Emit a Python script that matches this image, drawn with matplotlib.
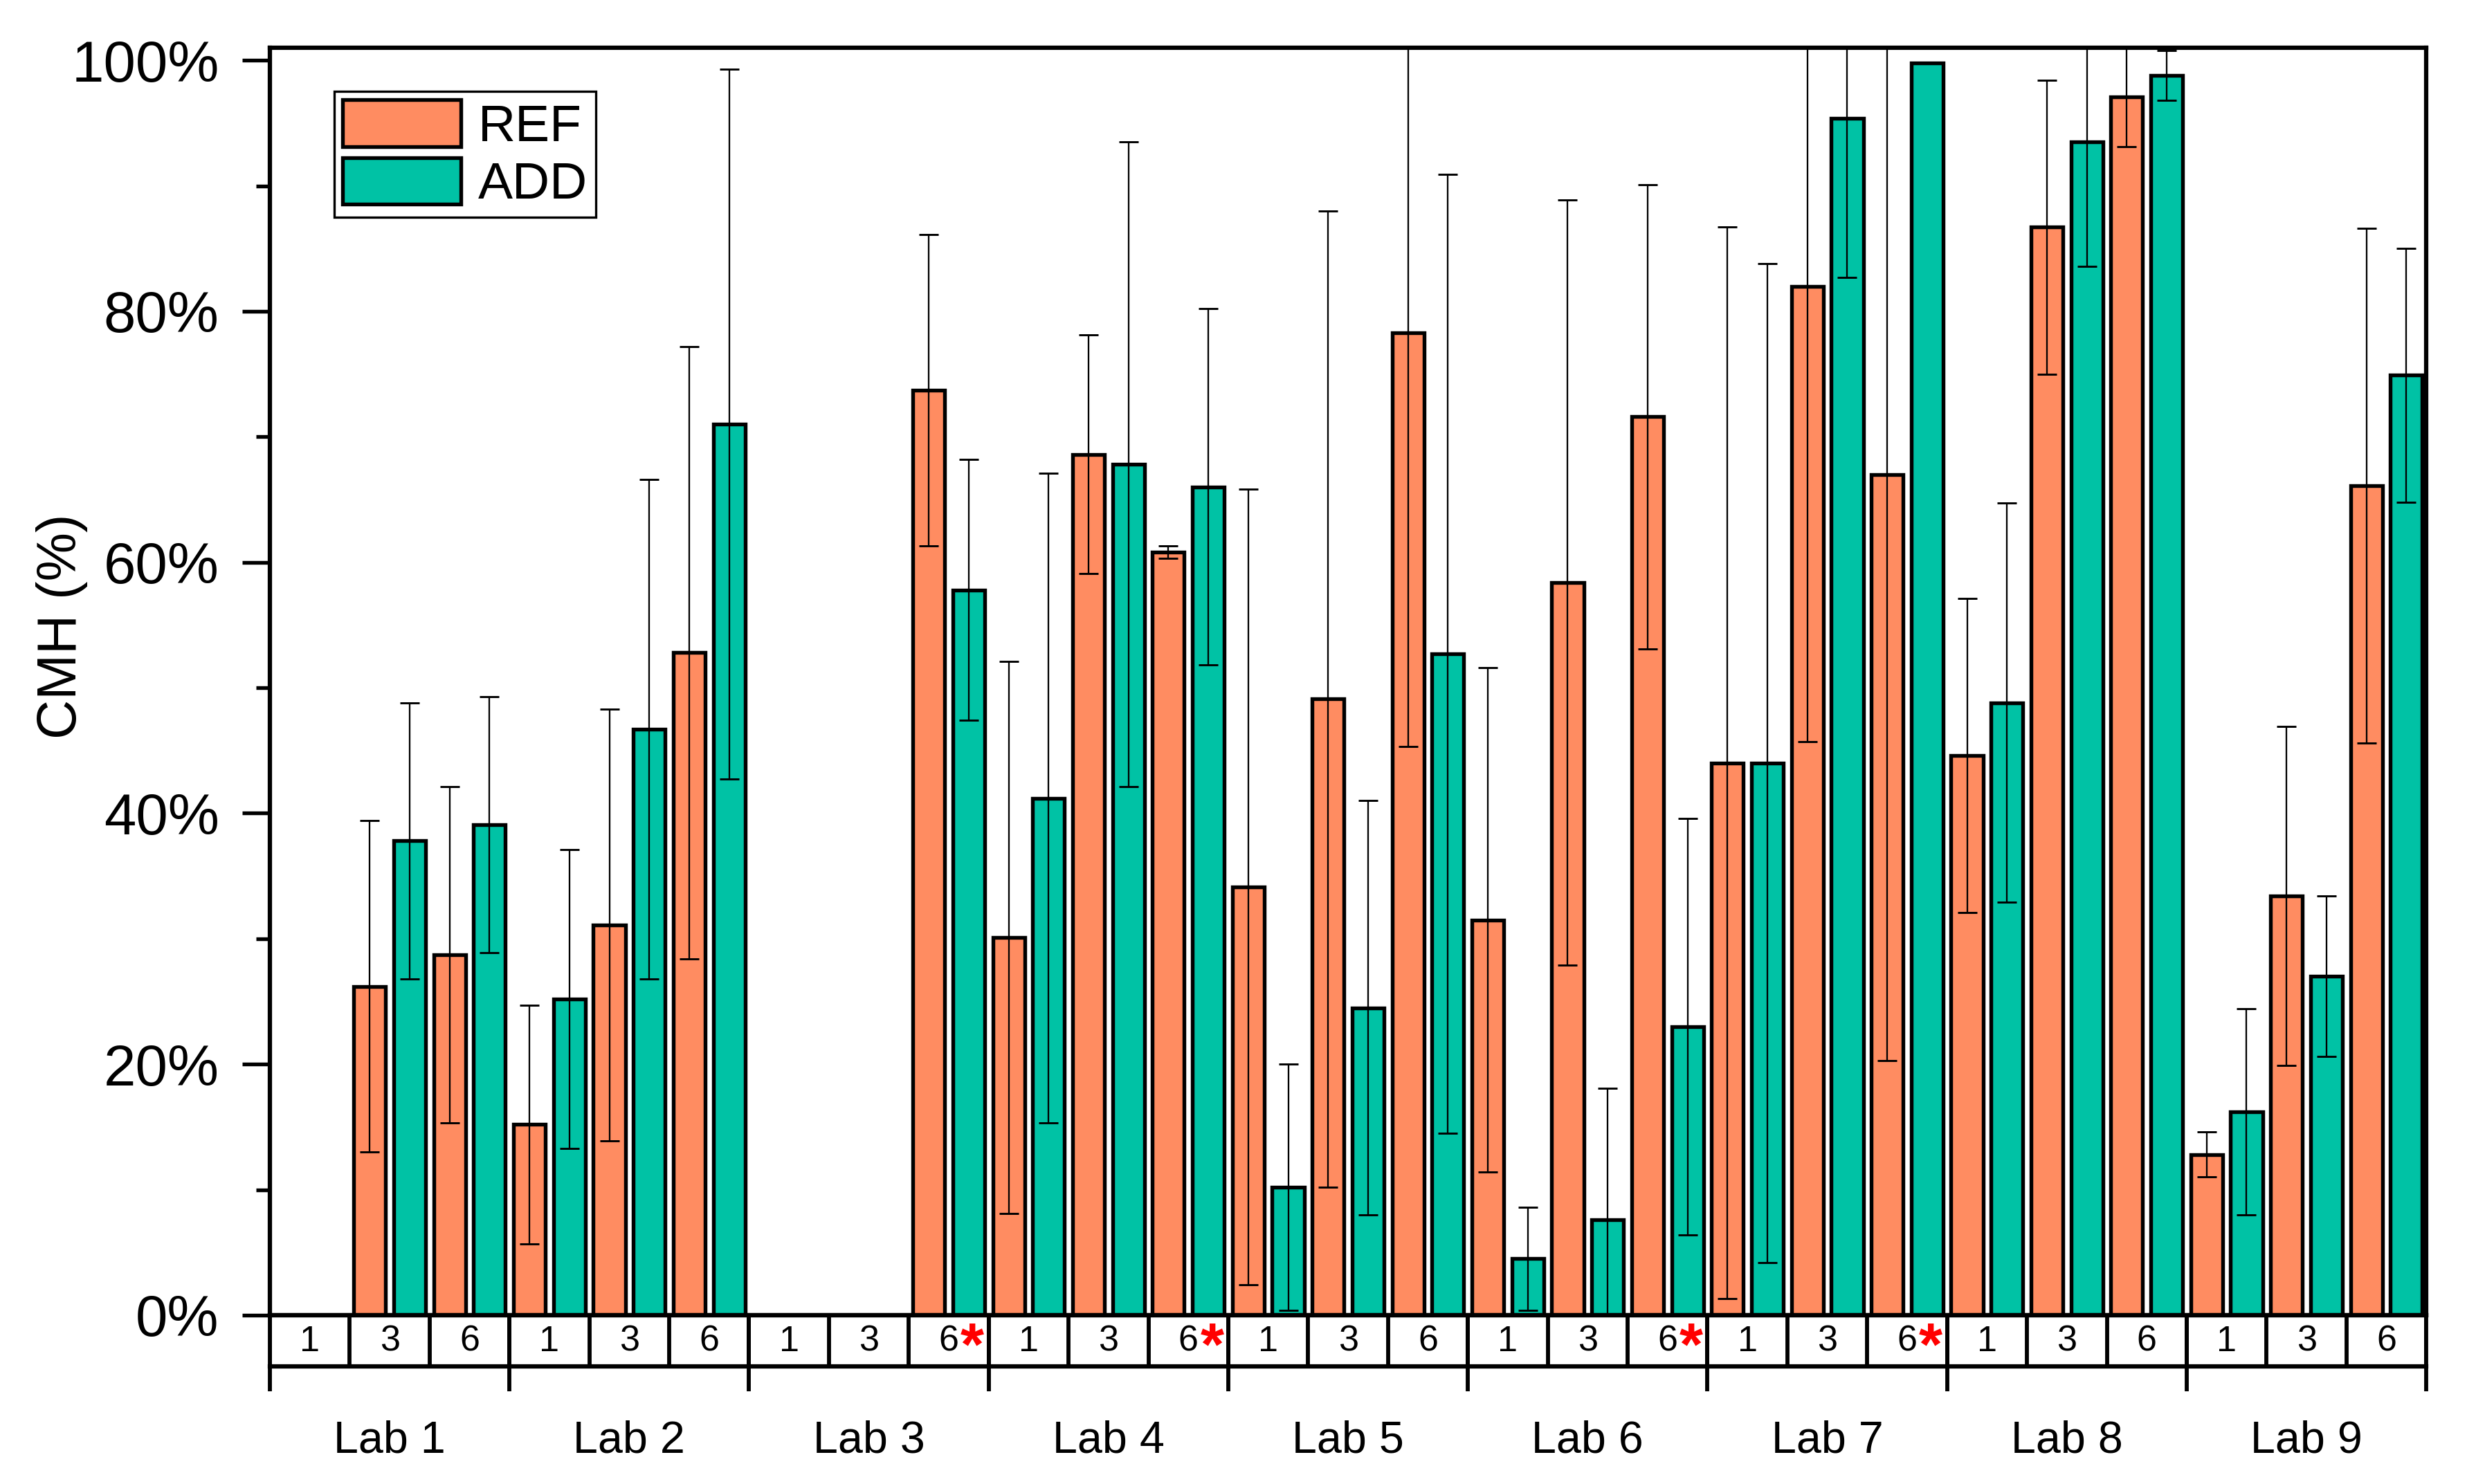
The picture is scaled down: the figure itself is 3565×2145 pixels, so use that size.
import numpy as np
import matplotlib.pyplot as plt
from matplotlib.ticker import MultipleLocator, FuncFormatter

plt.rcParams['font.family'] = ['Liberation Sans', 'DejaVu Sans']

# labs and sampling times
labs = ["Lab 1", "Lab 2", "Lab 3", "Lab 4", "Lab 5", "Lab 6", "Lab 7", "Lab 8", "Lab 9"]
times = ["1", "3", "6"]
# cells marked with a red asterisk (lab index, time label)
starred = [(2, "6"), (3, "6"), (5, "6"), (6, "6")]

# CMH (%) per lab and time, 27 values (Lab1 t1, Lab1 t3, Lab1 t6, Lab2 t1 ...)
ref_mean = [0, 26.2, 28.7, 15.2, 31.1, 52.8, 0, 0, 73.7,
            30.1, 68.6, 60.8, 34.1, 49.1, 78.3, 31.5, 58.4, 71.6,
            44.0, 82.0, 67.0, 44.6, 86.7, 97.1, 12.8, 33.4, 66.1]
ref_err = [0, 13.2, 13.4, 9.5, 17.2, 24.4, 0, 0, 12.4,
           22.0, 9.5, 0.5, 31.7, 38.9, 33.0, 20.1, 30.5, 18.5,
           42.7, 36.3, 46.7, 12.5, 11.7, 4.0, 1.8, 13.5, 20.5]
add_mean = [0, 37.8, 39.1, 25.2, 46.7, 71.0, 0, 0, 57.8,
            41.2, 67.8, 66.0, 10.2, 24.5, 52.7, 4.5, 7.6, 23.0,
            44.0, 95.4, 99.8, 48.8, 93.5, 98.8, 16.2, 27.0, 74.9]
add_err = [0, 11.0, 10.2, 11.9, 19.9, 28.3, 0, 0, 10.4,
           25.9, 25.7, 14.2, 9.8, 16.5, 38.2, 4.1, 10.5, 16.6,
           39.8, 12.7, 0, 15.9, 9.9, 2.0, 8.2, 6.4, 10.1]

# Farben
ref_color = "#FF8C61"
add_color = "#00C2A5"

n = len(labs) * len(times)
x = np.arange(n)
offset = 0.25
width = 0.40

fig = plt.figure(figsize=(3565 / 300, 2145 / 300), dpi=300)
ax = fig.add_axes([0.1094, 0.1138, 0.8741, 0.8540])

ax.bar(x - offset, ref_mean, width=width, color=ref_color, edgecolor="black",
       linewidth=1.3, label="REF", zorder=2)
ax.bar(x + offset, add_mean, width=width, color=add_color, edgecolor="black",
       linewidth=1.3, label="ADD", zorder=2)

# Fehlerbalken nur dort, wo es welche gibt
for xs, m, e in [(x - offset, ref_mean, ref_err), (x + offset, add_mean, add_err)]:
    m = np.array(m)
    e = np.array(e)
    mask = e > 0
    ax.errorbar(xs[mask], m[mask], yerr=e[mask], fmt="none", ecolor="black",
                elinewidth=0.55, capsize=3.3, capthick=0.7, zorder=3)

ax.set_xlim(-0.5, n - 0.5)
ax.set_ylim(0, 101)
ax.set_xticks([])
ax.yaxis.set_major_locator(MultipleLocator(20))
ax.yaxis.set_minor_locator(MultipleLocator(10))
ax.yaxis.set_major_formatter(FuncFormatter(lambda v, p: f"{int(round(v))}%"))
ax.tick_params(axis="y", which="major", length=9.6, width=1.3, pad=8, labelsize=20)
ax.tick_params(axis="y", which="minor", length=4.8, width=1.3)
for s in ax.spines.values():
    s.set_linewidth(1.5)

leg = ax.legend(loc="upper left", bbox_to_anchor=(0.0298, 0.9656), borderaxespad=0,
                fontsize=18, handlelength=2.28, handleheight=1.01, labelspacing=0.12,
                handletextpad=0.33, borderpad=0.16, fancybox=False, framealpha=1)
leg.get_frame().set_edgecolor("black")
leg.get_frame().set_linewidth(0.8)

fig.text(0.0251, 0.578, "CMH (%)", rotation=90, ha="center", va="center", fontsize=19)

# Tabelle mit Zeitpunkten unter der Achse
tab = fig.add_axes([0.1094, 0.0793, 0.8741, 0.0345])
tab.set_xlim(-0.5, n - 0.5)
tab.set_ylim(0, 1)
tab.set_xticks([])
tab.set_yticks([])
tab.patch.set_alpha(0)
for side in ["left", "right"]:
    tab.spines[side].set_visible(False)
for side in ["top", "bottom"]:
    tab.spines[side].set_linewidth(1.5)

cell_edges = np.arange(n + 1) - 0.5
lab_edges = cell_edges[::len(times)]
tab.vlines(cell_edges, 0, 1, colors="black", linewidth=1.4)
tab.vlines(lab_edges, -0.49, 1, colors="black", linewidth=1.4, clip_on=False)

for i, lab in enumerate(labs):
    for j, t in enumerate(times):
        xc = i * len(times) + j
        tab.text(xc, 0.48, t, ha="center", va="center", fontsize=12.5)
        if (i, t) in starred:
            tab.annotate("*", xy=(xc, 0.48), xytext=(8.2, -2.5), textcoords="offset points",
                         ha="center", va="center", fontsize=21, fontweight="bold", color="red")
    tab.text(i * len(times) + 1, -1.46, lab, ha="center", va="center", fontsize=15.5,
             transform=tab.get_xaxis_transform(), clip_on=False)

fig.savefig("out.png", dpi=300)
